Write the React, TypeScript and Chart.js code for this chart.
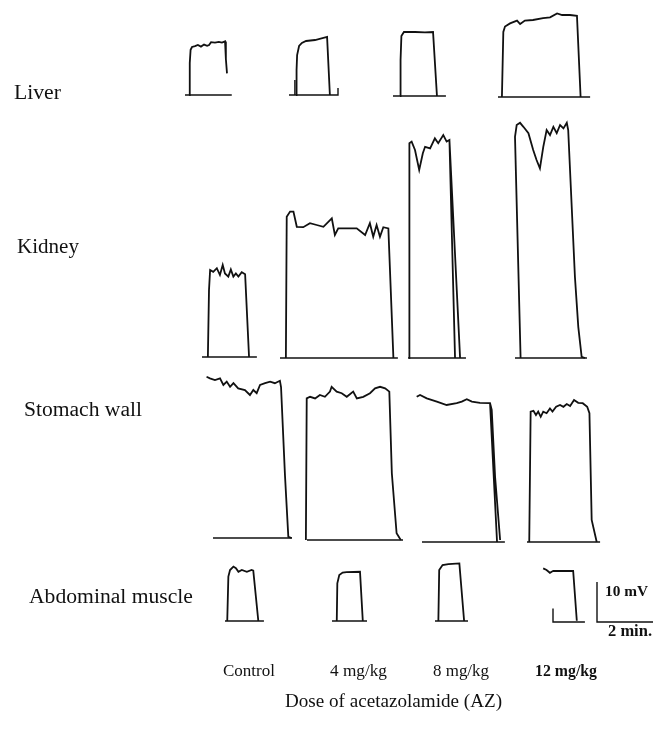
import { useEffect, useRef } from "react";
import { Chart, registerables } from "chart.js";

Chart.register(...registerables);

// ---------- texts ----------
const tissues = ["Liver", "Kidney", "Stomach wall", "Abdominal muscle"];
const doses = ["Control", "4 mg/kg", "8 mg/kg", "12 mg/kg"];
const doseTitle = "Dose of acetazolamide (AZ)";
const scaleBarMv = 10;
const scaleBarMin = 2;

// ---------- data: time (min) and potential (mV) per recording ----------
// Liver
const liverCtrlT = [0.15, 0.17, 0.2, 0.25, 0.36, 0.46, 0.57, 0.68, 0.79, 0.86, 0.93, 1.07, 1.21, 1.32, 1.43, 1.46, 1.5];
const liverCtrlV = [0, 8, 11.3, 12, 12.2, 12.5, 12.1, 12.6, 12.3, 12.5, 13.2, 13.1, 13.3, 13.1, 13.4, 9, 5.4];
const liverCtrlBaseT = [0, 1.67];
const liverCtrlBaseV = [0, 0];

const liver4T = [0.25, 0.27, 0.29, 0.36, 0.46, 0.61, 0.93, 1.36, 1.46];
const liver4V = [0, 6.25, 10, 12.25, 13, 13.5, 13.75, 14.5, 0];
const liver4BaseT = [0, 0.21, 0.21, 0.21, 1.75, 1.75];
const liver4BaseV = [0, 0, 3.75, 0, 0, 1.75];

const liver8T = [0.25, 0.27, 0.3, 0.39, 0.79, 1.14, 1.43, 1.57];
const liver8V = [0, 9, 15, 16, 16, 15.9, 16, 0];
const liver8BaseT = [0, 1.89];
const liver8BaseV = [0, 0];

const liver12T = [0.14, 0.19, 0.25, 0.43, 0.68, 0.79, 0.96, 1.25, 1.61, 1.86, 2.11, 2.29, 2.57, 2.82, 2.95];
const liver12V = [0, 16.25, 17.6, 18.4, 19.1, 18.25, 19.1, 19.25, 19.7, 19.9, 20.9, 20.5, 20.5, 20.3, 0];
const liver12BaseT = [0, 3.29];
const liver12BaseV = [0, 0];

// Kidney
const kidneyCtrlT = [0.21, 0.25, 0.29, 0.4, 0.53, 0.64, 0.74, 0.82, 0.94, 1.03, 1.12, 1.21, 1.3, 1.42, 1.54, 1.68];
const kidneyCtrlV = [0, 16.75, 21.75, 21.3, 22.2, 20.5, 23, 20.9, 20.1, 21.9, 20.1, 20.9, 20.1, 21.2, 20.7, 0];
const kidneyCtrlBaseT = [0, 1.96];
const kidneyCtrlBaseV = [0, 0];

const kidney4T = [0.21, 0.24, 0.36, 0.48, 0.6, 0.83, 1.07, 1.31, 1.55, 1.85, 1.96, 2.08, 2.38, 2.74, 3.04, 3.21, 3.33, 3.45, 3.57, 3.69, 3.87, 4.05];
const kidney4V = [0, 35.3, 36.6, 36.6, 32.8, 32.7, 33.7, 33.25, 32.8, 34.9, 30.75, 32.4, 32.4, 32.4, 30.75, 33.7, 30.3, 33.25, 30.3, 32.7, 32.4, 0];
const kidney4BaseT = [0, 4.21];
const kidney4BaseV = [0, 0];

const kidney8T = [0.04, 0.05, 0.13, 0.25, 0.4, 0.53, 0.61, 0.79, 0.96, 1.08, 1.26, 1.38, 1.48, 1.68, 1.68, 1.48, 1.86];
const kidney8V = [0, 53.7, 54.1, 52, 47, 51.2, 52.8, 52.4, 54.9, 53.7, 55.75, 54.1, 54.5, 0, null, 54.5, 0];
const kidney8BaseT = [0, 2.07];
const kidney8BaseV = [0, 0];

const kidney12T = [0.2, 0, 0.06, 0.18, 0.3, 0.48, 0.65, 0.77, 0.89, 1.01, 1.13, 1.25, 1.37, 1.49, 1.61, 1.73, 1.85, 1.9, 2.14, 2.26, 2.38, 2.5];
const kidney12V = [0, 55.3, 58.25, 58.8, 57.8, 56.2, 52, 49.5, 47.4, 52.8, 57, 55.75, 57.8, 56.2, 58.25, 57.4, 58.8, 57, 20.3, 7.8, 0.3, 0];
const kidney12BaseT = [0, 2.57];
const kidney12BaseV = [0, 0];

// Stomach wall
const stomachCtrlT = [-0.23, -0.11, 0.07, 0.25, 0.37, 0.49, 0.61, 0.73, 0.9, 1.14, 1.32, 1.44, 1.56, 1.68, 1.86, 2.04, 2.21, 2.39, 2.43, 2.57, 2.69, 2.81];
const stomachCtrlV = [40.3, 39.9, 39.5, 39.9, 38.25, 39.1, 37.8, 38.7, 37.4, 37, 35.75, 37, 36.2, 38.25, 38.7, 39.1, 38.7, 39.3, 37.75, 15.75, 0.3, 0];
const stomachCtrlBaseT = [0, 2.82];
const stomachCtrlBaseV = [0, 0];

const stomach4T = [-0.04, -0.01, 0.11, 0.29, 0.46, 0.64, 0.82, 0.88, 1.06, 1.24, 1.42, 1.65, 1.78, 2.01, 2.25, 2.43, 2.61, 2.79, 2.94, 3.03, 3.2, 3.35];
const stomach4V = [0, 35.4, 35.8, 35.4, 36.25, 35.8, 37.1, 38.3, 37.1, 36.7, 35.8, 37.1, 35.4, 35.8, 36.7, 37.9, 38.3, 37.9, 37.1, 16.7, 1.7, 0];
const stomach4BaseT = [0, 3.43];
const stomach4BaseV = [0, 0];

const stomach8T = [-0.19, -0.07, 0.17, 0.53, 0.88, 1.24, 1.42, 1.6, 1.78, 2.07, 2.43, 2.49, 2.61, 2.79, 2.79, 2.43, 2.68];
const stomach8V = [36.3, 36.75, 35.9, 35.1, 34.25, 34.7, 35.1, 35.7, 35.1, 34.8, 34.7, 33, 16.3, 0.5, null, 34.7, 0];
const stomach8BaseT = [0, 2.96];
const stomach8BaseV = [0, 0];

const stomach12T = [0.08, 0.13, 0.23, 0.32, 0.4, 0.49, 0.58, 0.7, 0.82, 0.91, 1.04, 1.18, 1.3, 1.42, 1.54, 1.68, 1.83, 1.99, 2.15, 2.23, 2.31, 2.49];
const stomach12V = [0, 32.6, 32.8, 31.75, 32.6, 31.3, 32.6, 32.2, 33.4, 32.6, 33.8, 34.25, 33.8, 34.5, 34, 35.5, 34.8, 34.7, 33.8, 32.2, 5.5, 0];
const stomach12BaseT = [0, 2.61];
const stomach12BaseV = [0, 0];

// Abdominal muscle
const muscleCtrlT = [0.08, 0.12, 0.18, 0.3, 0.39, 0.48, 0.6, 0.78, 0.95, 1.01, 1.19];
const muscleCtrlV = [0, 11.1, 12.75, 13.6, 13.2, 12.3, 12.75, 12.3, 12.75, 12.6, 0];
const muscleCtrlBaseT = [0, 1.39];
const muscleCtrlBaseV = [0, 0];

const muscle4T = [0.17, 0.19, 0.26, 0.38, 0.52, 1.0, 1.1];
const muscle4V = [0, 9.4, 11.5, 12.1, 12.2, 12.3, 0];
const muscle4BaseT = [0, 1.25];
const muscle4BaseV = [0, 0];

const muscle8T = [0.12, 0.15, 0.27, 0.48, 0.87, 1.04];
const muscle8V = [0, 12.75, 14, 14.2, 14.4, 0];
const muscle8BaseT = [0, 1.18];
const muscle8BaseV = [0, 0];

const muscle12T = [-0.35, -0.23, -0.11, 0.01, 0.37, 0.72, 0.85];
const muscle12V = [13.4, 13, 12.3, 12.8, 12.75, 12.8, 0.3];
const muscle12BaseT = [0, 0, 1.14];
const muscle12BaseV = [3.4, 0, 0];

// calibration bar (min, mV)
const calT = [0, 0, scaleBarMin];
const calV = [scaleBarMv, 0, 0];

// ---------- layout (pixels) ----------
const W = 664;
const H = 729;
const PX_PER_MIN = 28;
const PX_PER_MV = 4;

const panels = [
  [
    { t: liverCtrlT, v: liverCtrlV, bt: liverCtrlBaseT, bv: liverCtrlBaseV, o: [185, 95] },
    { t: liver4T, v: liver4V, bt: liver4BaseT, bv: liver4BaseV, o: [289, 95] },
    { t: liver8T, v: liver8V, bt: liver8BaseT, bv: liver8BaseV, o: [393, 96] },
    { t: liver12T, v: liver12V, bt: liver12BaseT, bv: liver12BaseV, o: [498, 97] },
  ],
  [
    { t: kidneyCtrlT, v: kidneyCtrlV, bt: kidneyCtrlBaseT, bv: kidneyCtrlBaseV, o: [202, 357] },
    { t: kidney4T, v: kidney4V, bt: kidney4BaseT, bv: kidney4BaseV, o: [280, 358] },
    { t: kidney8T, v: kidney8V, bt: kidney8BaseT, bv: kidney8BaseV, o: [408, 358] },
    { t: kidney12T, v: kidney12V, bt: kidney12BaseT, bv: kidney12BaseV, o: [515, 358] },
  ],
  [
    { t: stomachCtrlT, v: stomachCtrlV, bt: stomachCtrlBaseT, bv: stomachCtrlBaseV, o: [213, 538] },
    { t: stomach4T, v: stomach4V, bt: stomach4BaseT, bv: stomach4BaseV, o: [307, 540] },
    { t: stomach8T, v: stomach8V, bt: stomach8BaseT, bv: stomach8BaseV, o: [422, 542] },
    { t: stomach12T, v: stomach12V, bt: stomach12BaseT, bv: stomach12BaseV, o: [527, 542] },
  ],
  [
    { t: muscleCtrlT, v: muscleCtrlV, bt: muscleCtrlBaseT, bv: muscleCtrlBaseV, o: [225, 621] },
    { t: muscle4T, v: muscle4V, bt: muscle4BaseT, bv: muscle4BaseV, o: [332, 621] },
    { t: muscle8T, v: muscle8V, bt: muscle8BaseT, bv: muscle8BaseV, o: [435, 621] },
    { t: muscle12T, v: muscle12V, bt: muscle12BaseT, bv: muscle12BaseV, o: [553, 622] },
  ],
];
const calOrigin = [597, 622];

// text positions: left x, alphabetic baseline y, fitted width
const rowLabelPos = [
  { x: 14, y: 99, w: 47, bold: false },
  { x: 17, y: 253, w: 62, bold: false },
  { x: 24, y: 416, w: 118, bold: false },
  { x: 29, y: 603, w: 164, bold: false },
];
const colLabelPos = [
  { x: 223, w: 52, bold: false },
  { x: 330, w: 57, bold: false },
  { x: 433, w: 56, bold: false },
  { x: 535, w: 62, bold: true },
];
const colLabelY = 676;
const titlePos = { x: 285, y: 707, w: 217 };
const calLabels = [
  { text: `${scaleBarMv} mV`, x: 605, y: 596, w: 43 },
  { text: `${scaleBarMin} min.`, x: 608, y: 636, w: 44 },
];

const INK = "#111111";
const FONT = '"Liberation Serif", "DejaVu Serif", serif';

function toPoints(t: number[], v: (number | null)[], o: number[]) {
  const ox = o[0] / PX_PER_MIN;
  const oy = (H - o[1]) / PX_PER_MV;
  return t.map((tt, i) => ({ x: ox + tt, y: v[i] === null ? null : oy + (v[i] as number) }));
}

function fitText(ctx: CanvasRenderingContext2D, text: string, x: number, y: number, w: number, bold: boolean) {
  const weight = bold ? "bold" : "normal";
  ctx.font = `${weight} 20px ${FONT}`;
  const m = ctx.measureText(text).width;
  const size = (20 * w) / m;
  ctx.font = `${weight} ${size.toFixed(2)}px ${FONT}`;
  ctx.fillText(text, x, y);
}

const labelPlugin = {
  id: "figureLabels",
  afterDraw(chart: any) {
    const ctx: CanvasRenderingContext2D = chart.ctx;
    ctx.save();
    ctx.fillStyle = INK;
    ctx.textBaseline = "alphabetic";
    ctx.textAlign = "left";
    tissues.forEach((s, i) => fitText(ctx, s, rowLabelPos[i].x, rowLabelPos[i].y, rowLabelPos[i].w, rowLabelPos[i].bold));
    doses.forEach((s, i) => fitText(ctx, s, colLabelPos[i].x, colLabelY, colLabelPos[i].w, colLabelPos[i].bold));
    fitText(ctx, doseTitle, titlePos.x, titlePos.y, titlePos.w, false);
    calLabels.forEach((c) => fitText(ctx, c.text, c.x, c.y, c.w, true));
    ctx.restore();
  },
};

export default function App() {
  const ref = useRef<HTMLCanvasElement | null>(null);

  useEffect(() => {
    document.body.style.margin = "0";
    const canvas = ref.current;
    if (!canvas) return;

    const datasets: any[] = [];
    panels.forEach((row, r) =>
      row.forEach((p, c) => {
        datasets.push({
          label: `${tissues[r]} – ${doses[c]}`,
          data: toPoints(p.t, p.v, p.o),
          borderColor: INK,
          borderWidth: 1.8,
          showLine: true,
          pointRadius: 0,
          spanGaps: false,
          tension: 0,
        });
        datasets.push({
          label: `${tissues[r]} – ${doses[c]} baseline`,
          data: toPoints(p.bt, p.bv, p.o),
          borderColor: INK,
          borderWidth: 1.4,
          showLine: true,
          pointRadius: 0,
          tension: 0,
        });
      })
    );
    datasets.push({
      label: "calibration",
      data: toPoints(calT, calV, calOrigin),
      borderColor: INK,
      borderWidth: 1.4,
      showLine: true,
      pointRadius: 0,
      tension: 0,
    });

    const chart = new Chart(canvas, {
      type: "scatter",
      data: { datasets },
      options: {
        animation: false,
        responsive: false,
        devicePixelRatio: 1,
        layout: { padding: 0 },
        events: [],
        scales: {
          x: { type: "linear", display: false, min: 0, max: W / PX_PER_MIN },
          y: { type: "linear", display: false, min: 0, max: H / PX_PER_MV },
        },
        plugins: {
          legend: { display: false },
          tooltip: { enabled: false },
        },
      },
      plugins: [labelPlugin],
    });
    return () => chart.destroy();
  }, []);

  return (
    <div style={{ position: "absolute", left: 0, top: 0, width: W, height: H, background: "#fff" }}>
      <canvas ref={ref} width={W} height={H} style={{ display: "block", width: W, height: H }} />
    </div>
  );
}
